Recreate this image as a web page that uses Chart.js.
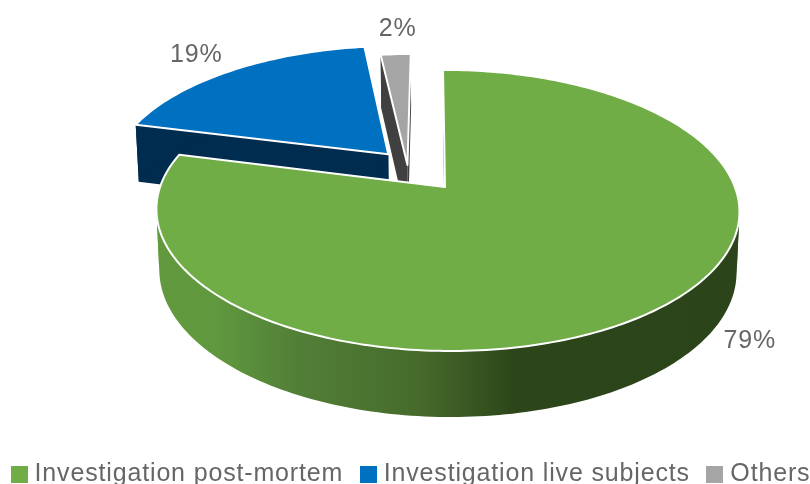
<!DOCTYPE html>
<html><head><meta charset="utf-8">
<style>html,body{margin:0;padding:0;background:#fff}#w{width:810px;height:484px}</style>
<script src="https://cdn.jsdelivr.net/npm/chart.js@4"></script>
</head><body><div id="w"><canvas id="c"></canvas></div>
<script>
const categories = ["Investigation post-mortem", "Investigation live subjects", "Others"];
const shares = [79, 19, 2];
const sliceColors = ["#70ad47", "#0070c0", "#a5a5a5"];
const wallColors = ["#2b441a", "#002c50", "#404040"];

// view: perspective projection of the unit pie
const VIEW = {cx:445, cy:187, R:287.4, S:136.6, k:0.167, ku:-0.0086, shear:0.017, D:59.7, kz:0.096, zScale:0.99};
const explode = [[0,0], [-0.204,0.25], [-0.133,0.165]];
const labelShift = [[98.5,29], [-35,-16], [2,-25]];
const drawOrder = [1,2,0];
const LETTER = '0.84px';

function project(u,v,z){
  const w = 1 + VIEW.k*v + VIEW.ku*u;
  const sc = z ? VIEW.zScale : 1;
  const dy = z ? VIEW.D/(1+VIEW.kz*v) : 0;
  const y = VIEW.cy - VIEW.S*v/w + dy;
  const x = VIEW.cx + sc*VIEW.R*u/w + VIEW.shear*(y-VIEW.cy-dy);
  return [x,y];
}
function pt(i,a,r,z){
  return project(r*Math.cos(a)+explode[i][0], -r*Math.sin(a)+explode[i][1], z);
}
function arcPts(i,a0,a1,z){
  const out=[], n=Math.max(4,Math.ceil((a1-a0)/0.02));
  for(let j=0;j<=n;j++) out.push(pt(i,a0+(a1-a0)*j/n,1,z));
  return out;
}
function poly(ctx,pts,fill,stroke,lw){
  ctx.beginPath();
  pts.forEach((p,j)=> j?ctx.lineTo(p[0],p[1]):ctx.moveTo(p[0],p[1]));
  ctx.closePath();
  ctx.fillStyle=fill; ctx.fill();
  if(stroke){ctx.strokeStyle=stroke;ctx.lineWidth=lw;ctx.lineJoin='round';ctx.stroke();}
}
function ribbon(ctx,top,bot,fill){
  // quads facing each way go in separate paths so that their overlap at the silhouette does not cancel
  [1,-1].forEach(sign=>{
    ctx.beginPath();
    for(let j=0;j<top.length-1;j++){
      const q=[top[j],top[j+1],bot[j+1],bot[j]];
      let area=0;
      q.forEach((p,m)=>{const n=q[(m+1)%4]; area+=p[0]*n[1]-n[0]*p[1];});
      if(area*sign<0) continue;
      q.forEach((p,m)=> m?ctx.lineTo(p[0],p[1]):ctx.moveTo(p[0],p[1]));
      ctx.closePath();
    }
    ctx.fillStyle=fill; ctx.fill();
  });
}
const pie3d = {
  id:'pie3d',
  beforeLayout(chart){ chart.ctx.letterSpacing=LETTER; },
  beforeDraw(chart){ chart.ctx.letterSpacing=LETTER; },
  beforeDatasetDraw(chart,args){
    const ctx=chart.ctx, arcs=args.meta.data;
    const grad=ctx.createLinearGradient(160,0,735,0);
    grad.addColorStop(0,'#62993f');
    grad.addColorStop(0.1,'#5f983e');
    grad.addColorStop(0.24,'#527f37');
    grad.addColorStop(0.45,'#466b2c');
    grad.addColorStop(0.62,'#2c4519');
    grad.addColorStop(1,'#2b441a');
    ctx.save();
    drawOrder.forEach(i=>{
      const {startAngle:a0,endAngle:a1}=arcs[i];
      const top=arcPts(i,a0,a1,0), bot=arcPts(i,a0,a1,1);
      const c0=pt(i,0,0,0), c1=pt(i,0,0,1);
      const wall=wallColors[i];
      poly(ctx,[c0,top[0],bot[0],c1],wall);
      poly(ctx,[c0,top[top.length-1],bot[bot.length-1],c1],wall);
      ribbon(ctx,top,bot,i===0?grad:wall);
      poly(ctx,[c0].concat(top), sliceColors[i], '#ffffff', 2);
    });
    ctx.font='25px "Liberation Sans"';
    ctx.fillStyle='#666666';ctx.textAlign='center';ctx.textBaseline='middle';
    arcs.forEach((arc,i)=>{
      const p=pt(i,(arc.startAngle+arc.endAngle)/2,1,0);
      ctx.fillText(shares[i]+'%',p[0]+labelShift[i][0],p[1]+labelShift[i][1]);
    });
    ctx.restore();
    return false;
  }
};
function swatch(color){
  const s=document.createElement('canvas');s.width=17;s.height=17;
  const g=s.getContext('2d');g.fillStyle=color;g.fillRect(0,0,17,17);
  return s;
}
new Chart(document.getElementById('c'),{
  type:'pie',
  data:{labels:categories,datasets:[{data:shares,backgroundColor:sliceColors,borderColor:'#ffffff'}]},
  options:{
    responsive:true,maintainAspectRatio:false,animation:false,
    layout:{padding:{left:-9,right:-25.5,bottom:-13}},
    plugins:{
      tooltip:{enabled:false},
      legend:{display:true,position:'bottom',
        labels:{
          color:'#666666',font:{family:'"Liberation Sans"',size:25},
          usePointStyle:true,pointStyleWidth:6,boxHeight:17,padding:22,
          generateLabels(chart){
            return categories.map((t,i)=>({text:t,pointStyle:swatch(sliceColors[i]),fillStyle:sliceColors[i],strokeStyle:sliceColors[i],lineWidth:0,fontColor:'#666666',index:i}));
          }
        }}
    }
  },
  plugins:[pie3d]
});
</script></body></html>
